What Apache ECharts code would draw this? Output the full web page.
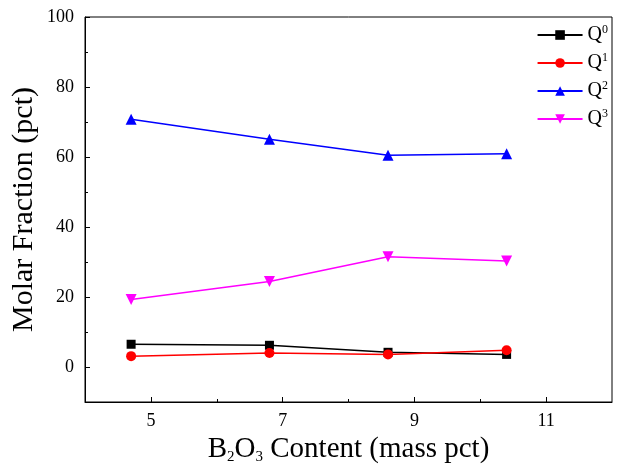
<!DOCTYPE html>
<html>
<head>
<meta charset="utf-8">
<script src="https://cdn.jsdelivr.net/npm/echarts@6/dist/echarts.min.js"></script>
<style>
  html, body { margin: 0; padding: 0; background: #fff; }
  #chart { width: 626px; height: 465px; }
</style>
</head>
<body>
<div id="chart"></div>
<script>
// B2O3 content (mass pct) of each sample
const b2o3 = [4.7, 6.8, 8.6, 10.4];
// Molar fraction (pct) of each Qn unit
const q0 = [6.5, 6.2, 4.2, 3.6];
const q1 = [3.1, 4.0, 3.6, 4.8];
const q2 = [70.8, 65.1, 60.5, 60.9];
const q3 = [19.3, 24.4, 31.5, 30.3];
// Axis tick labels
const xTicks = [5, 7, 9, 11];
const xMinorTicks = [6, 8, 10];
const yTicks = [0, 20, 40, 60, 80, 100];
const yMinorTicks = [-10, 10, 30, 50, 70, 90];

const FONT = 'Liberation Serif';

const seriesDefs = [
  { name: 'Q0', data: q0, color: '#000000', symbol: 'rect', size: 9 },
  { name: 'Q1', data: q1, color: '#ff0000', symbol: 'circle', size: 10 },
  { name: 'Q2', data: q2, color: '#0000ff', symbol: 'triangle', size: 11 },
  { name: 'Q3', data: q3, color: '#ff00ff', symbol: 'path://M0,0 L10,0 L5,9 Z', size: 11 }
];

const chart = echarts.init(document.getElementById('chart'), null, { renderer: 'canvas' });

const axisLine = { show: true, onZero: false, lineStyle: { color: '#000', width: 1 } };

chart.setOption({
  animation: false,
  backgroundColor: '#fff',
  textStyle: { fontFamily: FONT },
  grid: {
    left: 85, right: 14, top: 17, bottom: 63,
    outerBoundsMode: 'none', containLabel: false,
    show: true, borderColor: '#000', borderWidth: 1, backgroundColor: 'transparent'
  },
  legend: {
    right: 13, top: 19,
    orient: 'vertical',
    itemWidth: 45, itemHeight: 12, itemGap: 7,
    data: seriesDefs.map(s => s.name),
    formatter: name => '{q|Q}{s|' + name.slice(1) + '}',
    textStyle: {
      fontFamily: FONT, color: '#000',
      rich: {
        q: { fontFamily: FONT, fontSize: 20, color: '#000' },
        s: { fontFamily: FONT, fontSize: 12, color: '#000', padding: [0, 0, 10, 0] }
      }
    }
  },
  xAxis: [
    {
      type: 'value', min: 4, max: 12, interval: 1,
      axisLine: axisLine,
      splitLine: { show: false },
      axisTick: { show: true, inside: true, length: 5, customValues: xTicks, lineStyle: { color: '#000' } },
      axisLabel: { customValues: xTicks, fontFamily: FONT, fontSize: 18, color: '#000', margin: 10 },
      name: '{t|B}{sub|2}{t|O}{sub|3}{t| Content (mass pct)}',
      nameLocation: 'middle', nameGap: 27,
      nameTextStyle: {
        fontFamily: FONT, color: '#000',
        rich: {
          t: { fontFamily: FONT, fontSize: 29, color: '#000' },
          sub: { fontFamily: FONT, fontSize: 15, color: '#000', padding: [16, 0, 0, 0] }
        }
      }
    },
    {
      type: 'value', min: 4, max: 12, interval: 1, position: 'bottom',
      axisLine: { show: false, onZero: false }, splitLine: { show: false },
      axisTick: { show: true, inside: true, length: 3, customValues: xMinorTicks, lineStyle: { color: '#000' } },
      axisLabel: { show: false }
    }
  ],
  yAxis: [
    {
      type: 'value', min: -10, max: 100, interval: 10,
      axisLine: axisLine,
      splitLine: { show: false },
      axisTick: { show: true, inside: true, length: 5, customValues: yTicks, lineStyle: { color: '#000' } },
      axisLabel: { customValues: yTicks, fontFamily: FONT, fontSize: 18, color: '#000', margin: 11 },
      name: 'Molar Fraction (pct)',
      nameLocation: 'middle', nameGap: 46, nameMoveOverlap: false,
      nameTextStyle: { fontFamily: FONT, fontSize: 30, color: '#000' }
    },
    {
      type: 'value', min: -10, max: 100, interval: 10, position: 'left',
      axisLine: { show: false, onZero: false }, splitLine: { show: false },
      axisTick: { show: true, inside: true, length: 3, customValues: yMinorTicks, lineStyle: { color: '#000' } },
      axisLabel: { show: false }
    }
  ],
  series: seriesDefs.map(s => ({
    name: s.name,
    type: 'line',
    xAxisIndex: 0, yAxisIndex: 0,
    data: b2o3.map((x, i) => [x, s.data[i]]),
    symbol: s.symbol,
    symbolSize: s.size,
    showAllSymbol: true,
    lineStyle: { color: s.color, width: 1.5 },
    itemStyle: { color: s.color },
    emphasis: { disabled: true }
  }))
});
</script>
</body>
</html>
